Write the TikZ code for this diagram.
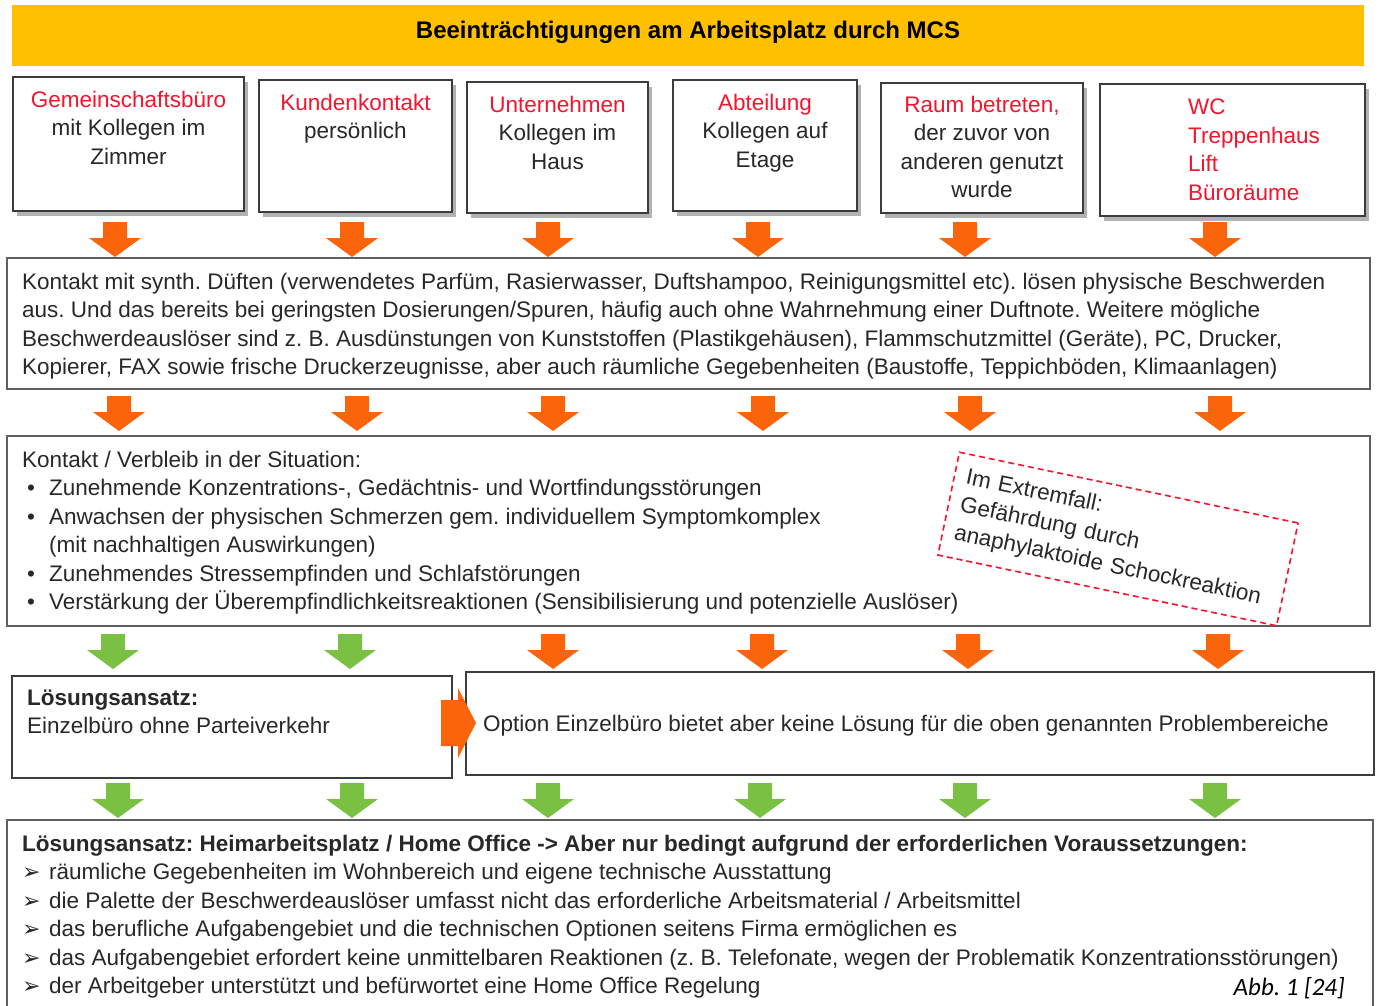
\documentclass[tikz,border=0pt]{standalone}
\usepackage{fontspec}
\setmainfont{Liberation Sans}
\newfontfamily\dejavu{DejaVu Sans}
\newfontfamily\carlito{Carlito}
\usetikzlibrary{shadows,calc}
\definecolor{banner}{RGB}{255,192,0}
\definecolor{arrOr}{RGB}{250,100,10}
\definecolor{arrGr}{RGB}{122,192,67}
\definecolor{redtxt}{RGB}{245,20,45}
\definecolor{txt}{RGB}{40,40,40}
\definecolor{frameD}{RGB}{60,60,60}
\definecolor{frameL}{RGB}{95,95,95}
\frenchspacing
\tikzset{
  topbox/.style={draw=frameD, line width=2pt, fill=white, inner sep=0pt, outer sep=0pt, anchor=north west,
    drop shadow={shadow xshift=4pt, shadow yshift=-5pt, fill=black, opacity=0.3}},
  bigbox/.style={draw=frameL, line width=1.5pt, fill=white, inner sep=0pt, outer sep=0pt, anchor=north west},
  solbox/.style={draw=frameD, line width=2pt, fill=white, inner sep=0pt, outer sep=0pt, anchor=north west},
  bodyfont/.style={font=\fontsize{22.5}{28.5}\selectfont, text=txt, inner sep=0pt},
  toptxt/.style={bodyfont, anchor=north, align=center},
  pics/darr/.style={code={\fill[#1] (-12,0) -- (12,0) -- (12,16) -- (26,16) -- (0,35) -- (-26,16) -- (-12,16) -- cycle;}},
}
\newcommand{\rd}[1]{\textcolor{redtxt}{#1}}
\newcommand{\bul}{\hspace*{5pt}\makebox[22pt][l]{•}}
\newcommand{\arr}{\makebox[27pt][l]{\hspace*{0pt}{\dejavu\fontsize{22}{22}\selectfont ➢}}}
\begin{document}
\begin{tikzpicture}[x=1pt,y=-1pt]
\useasboundingbox (0,0) rectangle (1378,1005);
\fill[white] (0,0) rectangle (1378,1005);
% banner
\node[fill=banner, inner sep=0pt, anchor=north west, minimum width=1352, minimum height=61] (banner) at (12,5) {};
\node[font=\fontsize{24}{28}\selectfont\bfseries, inner sep=0pt, anchor=base] (title) at (688,38.5) {Beeinträchtigungen am Arbeitsplatz durch MCS};
% top boxes
\node[topbox, minimum width=231, minimum height=134] (t1) at (13,77) {};
\node[topbox, minimum width=193, minimum height=132] (t2) at (259,80) {};
\node[topbox, minimum width=181, minimum height=131] (t3) at (467,82) {};
\node[topbox, minimum width=184, minimum height=131] (t4) at (673,80) {};
\node[topbox, minimum width=202, minimum height=130] (t5) at (881,83) {};
\node[topbox, minimum width=265, minimum height=132] (t6) at (1100,84) {};
\node[toptxt] (t1x) at (128.5,90.6) {\rd{Gemeinschaftsbüro}\\mit Kollegen im\\Zimmer};
\node[toptxt] (t2x) at (355.5,93.6) {\rd{Kundenkontakt}\\persönlich};
\node[toptxt] (t3x) at (557.5,95.6) {\rd{Unternehmen}\\Kollegen im\\Haus};
\node[toptxt] (t4x) at (765,93.6) {\rd{Abteilung}\\Kollegen auf\\Etage};
\node[toptxt] (t5x) at (982,95.6) {\rd{Raum betreten,}\\der zuvor von\\anderen genutzt\\wurde};
\node[bodyfont, anchor=north west, align=left, text=redtxt] (t6x) at (1188,98.6) {WC\\Treppenhaus\\Lift\\Büroräume};
% arrows row 1
\pic (a11) at (115,222) {darr=arrOr};
\pic (a12) at (352,222) {darr=arrOr};
\pic (a13) at (548,222) {darr=arrOr};
\pic (a14) at (758,222) {darr=arrOr};
\pic (a15) at (965,222) {darr=arrOr};
\pic (a16) at (1215,222) {darr=arrOr};
% box 2
\node[bigbox, minimum width=1363, minimum height=131] (b2) at (7,258) {};
\node[bodyfont, anchor=north west, align=left] (b2x) at (22,272.6) {Kontakt mit synth. Düften (verwendetes Parfüm, Rasierwasser, Duftshampoo, Reinigungsmittel etc). lösen physische Beschwerden\\aus. Und das bereits bei geringsten Dosierungen/Spuren, häufig auch ohne Wahrnehmung einer Duftnote. Weitere mögliche\\Beschwerdeauslöser sind z. B. Ausdünstungen von Kunststoffen (Plastikgehäusen), Flammschutzmittel (Geräte), PC, Drucker,\\Kopierer, FAX sowie frische Druckerzeugnisse, aber auch räumliche Gegebenheiten (Baustoffe, Teppichböden, Klimaanlagen)};
% arrows row 2
\pic (a21) at (119,396) {darr=arrOr};
\pic (a22) at (357,396) {darr=arrOr};
\pic (a23) at (553,396) {darr=arrOr};
\pic (a24) at (763,396) {darr=arrOr};
\pic (a25) at (970,396) {darr=arrOr};
\pic (a26) at (1220,396) {darr=arrOr};
% box 3
\node[bigbox, minimum width=1363, minimum height=190] (b3) at (7,436) {};
\node[bodyfont, anchor=north west, align=left] (b3x) at (22,450.6) {Kontakt / Verbleib in der Situation:\\
\bul Zunehmende Konzentrations-, Gedächtnis- und Wortfindungsstörungen\\
\bul Anwachsen der physischen Schmerzen gem. individuellem Symptomkomplex\\
\hspace*{27pt}(mit nachhaltigen Auswirkungen)\\
\bul Zunehmendes Stressempfinden und Schlafstörungen\\
\bul Verstärkung der Überempfindlichkeitsreaktionen (Sensibilisierung und potenzielle Auslöser)};
\node[draw=redtxt, dash pattern=on 6pt off 4pt, line width=1.6pt, rotate=-11.8, minimum width=346, minimum height=105, inner sep=0pt] (ext) at (1118,539) {};
\node[bodyfont, rotate=-11.8, text width=322, align=left] (extx) at (ext.center) {Im Extremfall:\\Gefährdung durch\\anaphylaktoide Schockreaktion};
% arrows row 3
\pic (a31) at (113,634) {darr=arrGr};
\pic (a32) at (350,634) {darr=arrGr};
\pic (a33) at (553,634) {darr=arrOr};
\pic (a34) at (762,634) {darr=arrOr};
\pic (a35) at (968,634) {darr=arrOr};
\pic (a36) at (1218,634) {darr=arrOr};
% solution boxes
\node[solbox, minimum width=440, minimum height=102] (s1) at (12,676) {};
\node[solbox, minimum width=908, minimum height=103] (s2) at (466,672) {};
\node[bodyfont, anchor=north west, align=left] (s1x) at (27,689.6) {\textbf{Lösungsansatz:}\\Einzelbüro ohne Parteiverkehr};
\node[bodyfont, anchor=north west, align=left] (s2x) at (483,714.6) {Option Einzelbüro bietet aber keine Lösung für die oben genannten Problembereiche};
\coordinate (rs) at ($(s1.east)+(-11,0)$);
\fill[arrOr] (rs |- 0,700) -- (458,700) -- (458,688) -- (476,723) -- (458,758) -- (458,746) -- (rs |- 0,746) -- cycle;
% arrows row 4
\pic (a41) at (118,783) {darr=arrGr};
\pic (a42) at (352,783) {darr=arrGr};
\pic (a43) at (548,783) {darr=arrGr};
\pic (a44) at (760,783) {darr=arrGr};
\pic (a45) at (965,783) {darr=arrGr};
\pic (a46) at (1215,783) {darr=arrGr};
% bottom box
\node[bigbox, minimum width=1366, minimum height=200] (b4) at (7,820) {};
\node[bodyfont, anchor=north west, align=left] (b4x) at (22,834.6) {\textbf{Lösungsansatz: Heimarbeitsplatz / Home Office -> Aber nur bedingt aufgrund der erforderlichen Voraussetzungen:}\\
\arr räumliche Gegebenheiten im Wohnbereich und eigene technische Ausstattung\\
\arr die Palette der Beschwerdeauslöser umfasst nicht das erforderliche Arbeitsmaterial / Arbeitsmittel\\
\arr das berufliche Aufgabengebiet und die technischen Optionen seitens Firma ermöglichen es\\
\arr das Aufgabengebiet erfordert keine unmittelbaren Reaktionen (z. B. Telefonate, wegen der Problematik Konzentrationsstörungen)\\
\arr der Arbeitgeber unterstützt und befürwortet eine Home Office Regelung};
\node[font=\carlito\itshape\fontsize{25}{28}\selectfont, inner sep=0pt, anchor=base east] (abb) at (1345,995) {Abb. 1 [24]};
\end{tikzpicture}
\end{document}
